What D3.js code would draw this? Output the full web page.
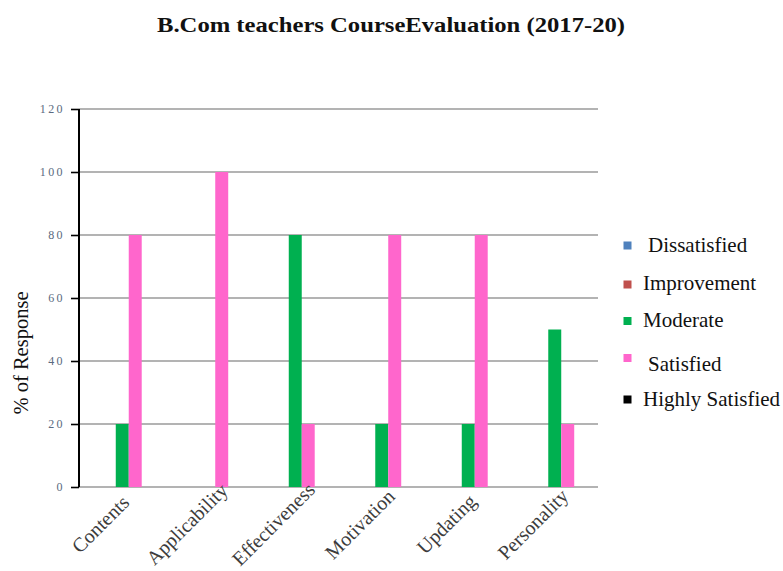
<!DOCTYPE html>
<html>
<head>
<meta charset="utf-8">
<script src="https://cdn.jsdelivr.net/npm/d3@7"></script>
<style>
  html, body { margin: 0; padding: 0; background: #fff; }
  svg { display: block; font-family: "Liberation Serif", "Times New Roman", serif; }
</style>
</head>
<body>
<svg id="chart" width="783" height="571"></svg>
<script>
// Course evaluation responses (% of respondents) per aspect
const categories = ["Contents", "Applicability", "Effectiveness", "Motivation", "Updating", "Personality"];
const seriesNames = ["Dissatisfied", "Improvement", "Moderate", "Satisfied", "Highly Satisfied"];
const seriesColors = ["#4F81BD", "#C0504D", "#00B050", "#FF66CC", "#000000"];
const dissatisfied    = [0, 0, 0, 0, 0, 0];
const improvement     = [0, 0, 0, 0, 0, 0];
const moderate        = [20, 0, 80, 20, 20, 50];
const satisfied       = [80, 100, 20, 80, 80, 20];
const highlySatisfied = [0, 0, 0, 0, 0, 0];
const yTicks = [0, 20, 40, 60, 80, 100, 120];
const titleText = "B.Com teachers CourseEvaluation (2017-20)";
const yAxisTitle = "% of Response";

const seriesValues = [dissatisfied, improvement, moderate, satisfied, highlySatisfied];

const svg = d3.select("#chart");
const plot = { left: 79, right: 598, top: 109, bottom: 487 };

const x0 = d3.scaleBand()
  .domain(categories)
  .range([plot.left, plot.right])
  .paddingInner(0.25)
  .paddingOuter(0.125);
const x1 = d3.scaleBand()
  .domain(seriesNames)
  .range([0, x0.bandwidth()]);
const y = d3.scaleLinear()
  .domain([0, 120])
  .range([plot.bottom, plot.top]);

// Horizontal gridlines
svg.append("g")
  .selectAll("line")
  .data(yTicks)
  .join("line")
  .attr("x1", plot.left)
  .attr("x2", plot.right)
  .attr("y1", d => y(d))
  .attr("y2", d => y(d))
  .attr("stroke", "#9a9a9a")
  .attr("stroke-width", 1.6);

// Bars
const groups = svg.append("g")
  .selectAll("g")
  .data(categories)
  .join("g")
  .attr("transform", d => `translate(${x0(d)},0)`);

groups.selectAll("rect")
  .data((c, i) => seriesNames.map((s, k) => ({ s, v: seriesValues[k][i], color: seriesColors[k] })))
  .join("rect")
  .attr("x", d => x1(d.s))
  .attr("width", x1.bandwidth())
  .attr("y", d => y(d.v))
  .attr("height", d => y(0) - y(d.v))
  .attr("fill", d => d.color);

// Y axis
const yAxis = d3.axisLeft(y)
  .tickValues(yTicks)
  .tickSize(8)
  .tickPadding(6);
const yg = svg.append("g")
  .attr("transform", `translate(${plot.left},0)`)
  .call(yAxis);
yg.select(".domain").attr("stroke", "#000").attr("stroke-width", 2).attr("d", `M0,${plot.top}V${plot.bottom}`);
yg.selectAll(".tick line").attr("stroke", "#000").attr("stroke-width", 1.6);
yg.selectAll(".tick text")
  .attr("font-family", "Liberation Serif, serif")
  .attr("font-size", 12)
  .attr("letter-spacing", 2.4)
  .attr("fill", "#5a6a80");

// X axis labels, rotated
const xg = svg.append("g");
xg.selectAll("text")
  .data(categories)
  .join("text")
  .attr("transform", d => `translate(${x0(d) + x0.bandwidth() / 2 - 17},${plot.bottom + 42}) rotate(-45)`)
  .attr("text-anchor", "middle")
  .attr("font-size", 20)
  .attr("fill", "#3c3c3c")
  .text(d => d);

// Title
svg.append("text")
  .attr("x", 391)
  .attr("y", 32)
  .attr("text-anchor", "middle")
  .attr("font-size", 22)
  .attr("font-weight", "bold")
  .attr("textLength", 468)
  .attr("lengthAdjust", "spacingAndGlyphs")
  .attr("fill", "#111")
  .text(titleText);

// Y axis title
svg.append("text")
  .attr("transform", `translate(28,353) rotate(-90)`)
  .attr("text-anchor", "middle")
  .attr("font-size", 20.5)
  .attr("fill", "#111")
  .text(yAxisTitle);

// Legend
const legendRowY = [245.5, 284.5, 321, 358, 399.5];
const legendTextX = [648, 643, 643, 648, 643];
const legendTextY = [252, 290, 327, 371, 406];
const legend = svg.append("g");
legend.selectAll("rect")
  .data(seriesNames)
  .join("rect")
  .attr("x", 623.5)
  .attr("y", (d, i) => legendRowY[i] - 4)
  .attr("width", 8)
  .attr("height", 8)
  .attr("fill", (d, i) => seriesColors[i]);
legend.selectAll("text")
  .data(seriesNames)
  .join("text")
  .attr("x", (d, i) => legendTextX[i])
  .attr("y", (d, i) => legendTextY[i])
  .attr("font-size", 21)
  .attr("fill", "#111")
  .text(d => d);
</script>
</body>
</html>
